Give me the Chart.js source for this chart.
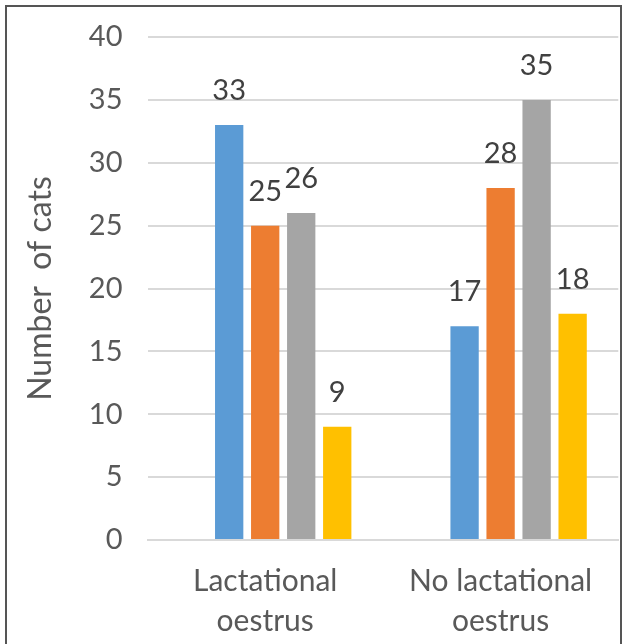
<!DOCTYPE html>
<html>
<head>
<meta charset="utf-8">
<script src="https://cdn.jsdelivr.net/npm/chart.js@4"></script>
<style>
  html, body { margin: 0; padding: 0; background: #fff; overflow: hidden; }
  #wrap { position: relative; width: 627px; height: 644px; }
  #c { position: absolute; left: 0; top: 0; }
  #frame { position: absolute; left: 5px; top: 5px; width: 613px; height: 700px;
           border: 2px solid #555; box-sizing: content-box; pointer-events: none; }
</style>
</head>
<body>
<div id="wrap">
  <canvas id="c" width="627" height="644"></canvas>
  <div id="frame"></div>
</div>
<script>
const categories = [["Lactational", "oestrus"], ["No lactational", "oestrus"]];
const spacerSeries = [null, null];
const seriesBlue = [33, 17];
const seriesOrange = [25, 28];
const seriesGray = [26, 35];
const seriesYellow = [9, 18];
const yTicks = [0, 5, 10, 15, 20, 25, 30, 35, 40];
const yTitle = "Number  of cats";

const FONT = "Lato";

const dataLabels = {
  id: "dataLabels",
  afterDatasetsDraw(chart) {
    const ctx = chart.ctx;
    ctx.save();
    ctx.font = "29px " + FONT;
    ctx.fillStyle = "#404040";
    ctx.textAlign = "center";
    ctx.textBaseline = "alphabetic";
    chart.data.datasets.forEach((ds, i) => {
      const meta = chart.getDatasetMeta(i);
      meta.data.forEach((bar, j) => {
        const v = ds.data[j];
        if (v === null || v === undefined) return;
        ctx.fillText(String(v), bar.x, bar.y - 25);
      });
    });
    ctx.restore();
  }
};

const common = { categoryPercentage: 0.765, barPercentage: 0.786 };

new Chart(document.getElementById("c"), {
  type: "bar",
  data: {
    labels: categories,
    datasets: [
      Object.assign({ label: "", data: spacerSeries, backgroundColor: "rgba(0,0,0,0)" }, common),
      Object.assign({ label: "S1", data: seriesBlue, backgroundColor: "#5B9BD5" }, common),
      Object.assign({ label: "S2", data: seriesOrange, backgroundColor: "#ED7D31" }, common),
      Object.assign({ label: "S3", data: seriesGray, backgroundColor: "#A5A5A5" }, common),
      Object.assign({ label: "S4", data: seriesYellow, backgroundColor: "#FFC000" }, common)
    ]
  },
  options: {
    responsive: false,
    animation: false,
    layout: { padding: { left: 0, right: 8.7, top: 37, bottom: 0 } },
    plugins: { legend: { display: false }, tooltip: { enabled: false } },
    scales: {
      x: {
        grid: { display: false, drawTicks: false },
        border: { display: true, color: "#D9D9D9", width: 2 },
        ticks: { font: { family: FONT, size: 30, lineHeight: 1.33 }, color: "#595959", padding: 21, maxRotation: 0, autoSkip: false },
        afterFit(scale) { scale.height = 104; }
      },
      y: {
        min: 0, max: 40,
        afterBuildTicks(scale) { scale.ticks = yTicks.map(v => ({ value: v })); },
        grid: { color: "#D9D9D9", lineWidth: 2, drawTicks: true, tickLength: 25, tickColor: "rgba(0,0,0,0)" },
        border: { display: false },
        ticks: { font: { family: FONT, size: 29 }, color: "#595959", padding: 0 },
        title: { display: true, text: yTitle, font: { family: FONT, size: 32 }, color: "#595959", padding: { top: 21, bottom: 0 } },
        afterFit(scale) { scale.width = 147.5; }
      }
    }
  },
  plugins: [dataLabels]
});
</script>
</body>
</html>
